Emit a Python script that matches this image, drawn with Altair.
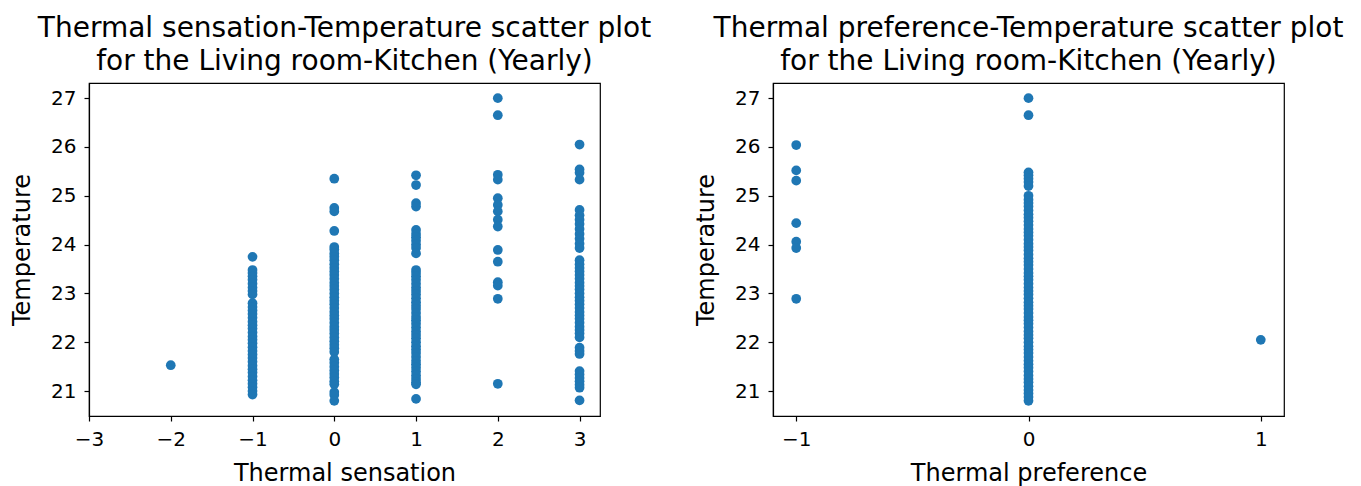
import altair as alt
import pandas as pd

# Thermal sensation chart: temperatures per sensation value
sens_m2 = [21.53]
sens_m1 = [23.75, 23.48, 23.42, 23.35, 23.28, 23.20, 23.12, 23.05, 22.98, 22.80, 22.72,
           22.65, 22.58, 22.50, 22.42, 22.35, 22.28, 22.20, 22.12, 22.05, 21.98, 21.90,
           21.82, 21.75, 21.68, 21.60, 21.52, 21.45, 21.38, 21.30, 21.22, 21.15, 21.08,
           21.00, 20.93]
sens_0 = [25.35, 24.75, 24.68, 24.28, 23.95, 23.90, 23.82, 23.75, 23.68, 23.60, 23.52,
          23.45, 23.38, 23.30, 23.22, 23.15, 23.08, 23.00, 22.92, 22.85, 22.78, 22.70,
          22.62, 22.55, 22.48, 22.40, 22.32, 22.25, 22.18, 22.10, 22.02, 21.95, 21.88,
          21.80, 21.65, 21.58, 21.50, 21.42, 21.35, 21.28, 21.20, 21.14, 20.98, 20.92,
          20.80]
sens_1 = [25.42, 25.22, 24.85, 24.78, 24.30, 24.22, 24.15, 24.08, 24.00, 23.93, 23.82,
          23.48, 23.42, 23.35, 23.28, 23.20, 23.12, 23.05, 22.98, 22.90, 22.82, 22.75,
          22.68, 22.60, 22.52, 22.45, 22.38, 22.30, 22.22, 22.15, 22.08, 22.00, 21.92,
          21.85, 21.78, 21.70, 21.62, 21.55, 21.48, 21.40, 21.32, 21.25, 21.18, 21.14,
          20.84]
sens_2 = [27.00, 26.65, 25.43, 25.33, 24.95, 24.81, 24.68, 24.51, 24.37, 23.89, 23.65,
          23.23, 23.16, 22.89, 21.15]
sens_3 = [26.05, 25.54, 25.47, 25.33, 24.71, 24.60, 24.51, 24.42, 24.32, 24.22, 24.12,
          24.02, 23.93, 23.68, 23.60, 23.52, 23.45, 23.38, 23.30, 23.22, 23.15, 23.08,
          23.00, 22.92, 22.85, 22.78, 22.70, 22.62, 22.55, 22.48, 22.40, 22.32, 22.25,
          22.18, 22.10, 21.89, 21.82, 21.76, 21.41, 21.34, 21.27, 21.20, 21.13, 21.07,
          20.81]

# Thermal preference chart: temperatures per preference value
pref_m1 = [26.04, 25.52, 25.31, 24.44, 24.06, 23.93, 22.89]
pref_0 = [27.00, 26.65, 25.48, 25.42, 25.35, 25.28, 25.20, 25.00, 24.92, 24.85, 24.78,
          24.70, 24.62, 24.55, 24.48, 24.40, 24.32, 24.25, 24.18, 24.10, 24.02, 23.95,
          23.88, 23.80, 23.72, 23.65, 23.58, 23.50, 23.42, 23.35, 23.28, 23.20, 23.12,
          23.05, 22.98, 22.90, 22.82, 22.75, 22.68, 22.60, 22.52, 22.45, 22.38, 22.30,
          22.22, 22.15, 22.08, 22.00, 21.92, 21.85, 21.78, 21.70, 21.62, 21.55, 21.48,
          21.40, 21.32, 21.25, 21.18, 21.10, 21.02, 20.95, 20.88, 20.80]
pref_1 = [22.05]

sens_ticks = [-3, -2, -1, 0, 1, 2, 3]
pref_ticks = [-1, 0, 1]
temp_ticks = [21, 22, 23, 24, 25, 26, 27]

sens_groups = {-2: sens_m2, -1: sens_m1, 0: sens_0, 1: sens_1, 2: sens_2, 3: sens_3}
pref_groups = {-1: pref_m1, 0: pref_0, 1: pref_1}

sens_df = pd.DataFrame([{"x": k, "t": v} for k, vals in sens_groups.items() for v in vals])
pref_df = pd.DataFrame([{"x": k, "t": v} for k, vals in pref_groups.items() for v in vals])

FONT = "DejaVu Sans"
BLUE = "#1f77b4"
MINUS = "replace(datum.label, '-', '\u2212')"

y_enc = alt.Y("t:Q", title="Temperature",
              scale=alt.Scale(domain=[20.49, 27.31], nice=False, zero=False),
              axis=alt.Axis(values=temp_ticks, format="d", titlePadding=16))


def panel(df, xtitle, ticks, domain, title_lines):
    return alt.Chart(df, title=alt.Title(title_lines, anchor="middle", fontSize=28,
                                         font=FONT, fontWeight="normal", color="black",
                                         lineHeight=33, offset=7)).mark_circle(
        size=95, opacity=1, color=BLUE
    ).encode(
        x=alt.X("x:Q", title=xtitle,
                scale=alt.Scale(domain=domain, nice=False, zero=False),
                axis=alt.Axis(values=ticks, format="d", labelExpr=MINUS,
                              labelFlush=False)),
        y=y_enc,
    ).properties(width=511, height=333)


left = panel(sens_df, "Thermal sensation", sens_ticks, [-3, 3.25],
             ["Thermal sensation-Temperature scatter plot",
              "for the Living room-Kitchen (Yearly)"])
right = panel(pref_df, "Thermal preference", pref_ticks, [-1.1, 1.1],
              ["Thermal preference-Temperature scatter plot",
               "for the Living room-Kitchen (Yearly)"])

chart = alt.hconcat(left, right, spacing=41).properties(
    padding={"left": 1, "top": 6, "right": 0, "bottom": 0}
).configure_view(
    stroke="black", strokeWidth=1.2
).configure_axis(
    grid=False, domainColor="black", domainWidth=1.2, tickColor="black", tickWidth=1.2,
    tickSize=5, labelFont=FONT, labelFontSize=20, labelColor="black", labelPadding=8,
    titleFont=FONT, titleFontSize=24, titleFontWeight="normal", titleColor="black",
    titlePadding=12
)

chart.save("out.html", embed_options={"renderer": "svg", "actions": False})
